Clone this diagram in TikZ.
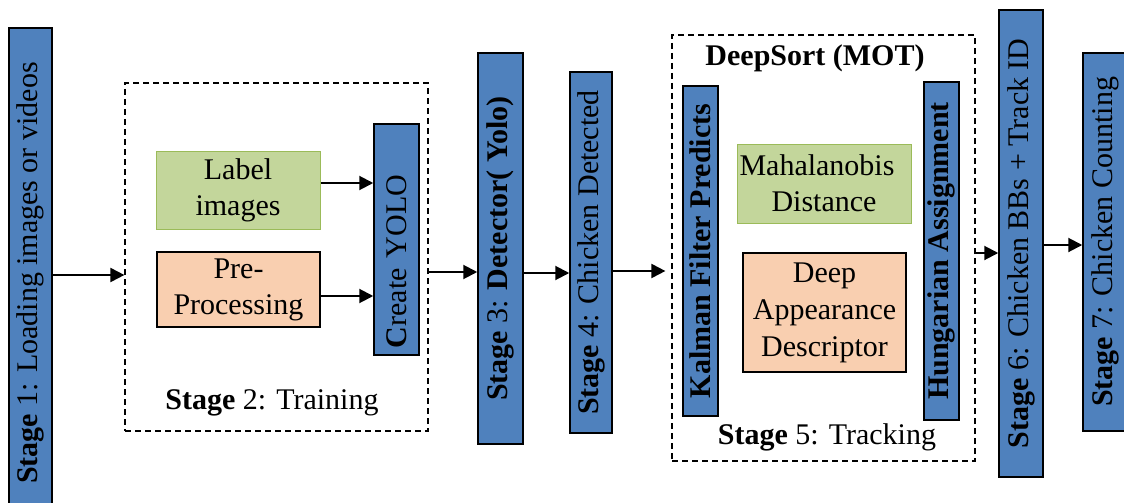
\documentclass[tikz,border=0pt]{standalone}
\usepackage{fontspec}
\setmainfont{Liberation Serif}
\usetikzlibrary{arrows.meta}
\definecolor{barblue}{HTML}{4F81BD}
\definecolor{labelgreen}{HTML}{C3D69B}
\definecolor{labelgreenline}{HTML}{9BBB59}
\definecolor{prepeach}{HTML}{F9CFB0}
\tikzset{
  flow chart/.style={
    x=1pt,
    y=-1pt,
    font=\fontsize{30}{36}\selectfont
  },
  stage bar/.style={
    draw=black,
    line width=1.5pt,
    fill=barblue,
    rotate=90,
    inner sep=0pt
  },
  green box/.style={
    draw=labelgreenline,
    line width=1pt,
    fill=labelgreen,
    align=center,
    inner sep=0pt
  },
  peach box/.style={
    draw=black,
    line width=1.3pt,
    fill=prepeach,
    align=center,
    inner sep=0pt
  },
  group box/.style={
    draw=black,
    line width=1.2pt,
    dash pattern=on 6pt off 4pt,
    inner sep=0pt
  },
  flow/.style={
    line width=2pt,
    -{Triangle[length=14pt,width=14pt]}
  }
}

\begin{document}
\begin{tikzpicture}[flow chart]
  \useasboundingbox (0,0) rectangle (1124,503);

  % stage 1
  \node[stage bar,minimum width=490pt,minimum height=43pt] (s1) at (30.5,273)
    {\textbf{Stage} 1: Loading images or videos};

  % stage 2: training group
  \node[group box,minimum width=303pt,minimum height=348pt] (train) at (276.5,257) {};
  \node[green box,minimum width=164pt,minimum height=78pt] (label) at (238,190)
    {Label\\images};
  \node[peach box,minimum width=163pt,minimum height=75pt] (pre) at (238.5,289.5)
    {Pre-\\Processing};
  \node[stage bar,minimum height=45pt,inner xsep=7pt,text width=217pt,align=left]
    (yolo) at (396.5,239.5) {\textbf{C}reate YOLO};
  \node (traintitle) at (272,403) {\textbf{Stage} 2: Training};

  % stages 3 and 4
  \node[stage bar,minimum width=391pt,minimum height=45pt] (s3) at (500.5,248.5)
    {\textbf{Stage} 3: \textbf{Detector( Yolo)}};
  \node[stage bar,minimum width=361pt,minimum height=42pt] (s4) at (591,252.5)
    {\textbf{Stage} 4: Chicken Detected};

  % stage 5: tracking group
  \node[group box,minimum width=303pt,minimum height=426pt] (track) at (823.5,248) {};
  \node (tracktop) at (815,58) {\textbf{DeepSort (MOT)}};
  \node[stage bar,minimum width=330pt,minimum height=35pt,font=\fontsize{30}{36}\selectfont\bfseries]
    (kalman) at (700.5,251) {Kalman Filter Predicts};
  \node[green box,minimum width=174pt,minimum height=79pt] (mahal) at (824,183.5)
    {Mahalanobis\hspace*{14pt}\\Distance};
  \node[peach box,minimum width=163pt,minimum height=119pt,
    font=\fontsize{30}{37}\selectfont] (deep) at (824.5,312.5)
    {Deep\\Appearance\\Descriptor};
  \node[stage bar,minimum width=338pt,minimum height=35pt,font=\fontsize{30}{36}\selectfont\bfseries]
    (hung) at (941.5,251) {Hungarian Assignment};
  \node (tracktitle) at (827,437) {\textbf{Stage} 5: Tracking};

  % stages 6 and 7
  \node[stage bar,minimum width=467pt,minimum height=44pt] (s6) at (1021,243.5)
    {\textbf{Stage} 6: Chicken BBs + Track ID};
  \node[stage bar,minimum width=378pt,minimum height=44pt] (s7) at (1105,242)
    {\textbf{Stage} 7: Chicken Counting};

  % connectors
  \draw[flow] (s1.south |- 0,275) -- (train.west |- 0,275);
  \draw[flow] (label.east |- 0,183) -- (yolo.north |- 0,183);
  \draw[flow] (pre.east |- 0,296) -- (yolo.north |- 0,296);
  \draw[flow] (train.east |- 0,272) -- (s3.north |- 0,272);
  \draw[flow] (s3.south |- 0,273) -- (s4.north |- 0,273);
  \draw[flow,shorten >=6pt] (s4.south |- 0,271) -- (track.west |- 0,271);
  \draw[flow] (track.east |- 0,253) -- (s6.north |- 0,253);
  \draw[flow] (s6.south |- 0,245) -- (s7.north |- 0,245);

\end{tikzpicture}
\end{document}
